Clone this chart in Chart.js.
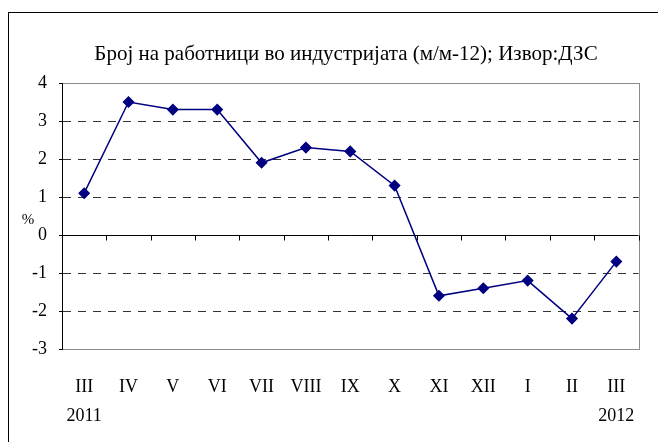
<!DOCTYPE html>
<html>
<head>
<meta charset="utf-8">
<script src="https://cdn.jsdelivr.net/npm/chart.js@4/dist/chart.umd.min.js"></script>
<style>
html,body{margin:0;padding:0;background:#fff;}
#wrap{width:658px;height:442px;position:relative;}
</style>
</head>
<body>
<div id="wrap"><canvas id="c" width="658" height="442"></canvas></div>
<script>
const titleText = 'Број на работници во индустријата (м/м-12); Извор:ДЗС';
const months = ['III','IV','V','VI','VII','VIII','IX','X','XI','XII','I','II','III'];
const years = ['2011','','','','','','','','','','','','2012'];
const values = [1.1, 3.5, 3.3, 3.3, 1.9, 2.3, 2.2, 1.3, -1.6, -1.4, -1.2, -2.2, -0.7];
const yMin = -3, yMax = 4, yStep = 1;
const unitLabel = '%';

const labels = months.map((m, i) => years[i] ? [m, years[i]] : m);
const serif = 'Liberation Serif';

const decor = {
  id: 'decor',
  beforeDraw(chart) {
    const ctx = chart.ctx, a = chart.chartArea;
    ctx.save();
    ctx.strokeStyle = '#000';
    ctx.lineWidth = 1;
    ctx.strokeRect(8.5, 12.5, 1000, 1000);
    ctx.strokeStyle = '#8c8c8c';
    ctx.strokeRect(Math.round(a.left) + 0.5, Math.round(a.top) + 0.5, Math.round(a.right - a.left), Math.round(a.bottom - a.top));
    ctx.restore();
  },
  beforeDatasetsDraw(chart) {
    // category boundary tick marks hanging from the zero line
    const ctx = chart.ctx, xs = chart.scales.x, ys = chart.scales.y;
    const y0 = Math.round(ys.getPixelForValue(0)) + 0.5;
    const n = xs.ticks.length;
    ctx.save();
    ctx.strokeStyle = '#000';
    ctx.lineWidth = 1;
    ctx.beginPath();
    for (let i = 0; i <= n; i++) {
      let p;
      if (i === 0) p = xs.left;
      else if (i === n) p = xs.right;
      else p = (xs.getPixelForTick(i - 1) + xs.getPixelForTick(i)) / 2;
      p = Math.round(p) + 0.5;
      ctx.moveTo(p, y0);
      ctx.lineTo(p, y0 + 5);
    }
    ctx.stroke();
    ctx.restore();
  },
  afterDraw(chart) {
    const ctx = chart.ctx, a = chart.chartArea;
    ctx.save();
    ctx.fillStyle = '#000';
    ctx.font = '21px "' + serif + '"';
    ctx.textAlign = 'center';
    ctx.textBaseline = 'alphabetic';
    ctx.fillText(titleText, 346, 60);
    ctx.font = '15px "' + serif + '"';
    ctx.textBaseline = 'middle';
    ctx.fillText(unitLabel, 28, (a.top + a.bottom) / 2 + 4);
    ctx.restore();
  }
};

new Chart(document.getElementById('c'), {
  type: 'line',
  data: {
    labels: labels,
    datasets: [{
      data: values,
      borderColor: '#000080',
      backgroundColor: '#000080',
      borderWidth: 1.5,
      pointStyle: 'rectRot',
      pointRadius: 5,
      pointHoverRadius: 5,
      tension: 0
    }]
  },
  options: {
    responsive: false,
    animation: false,
    layout: { padding: { left: 0, right: 17, top: 83, bottom: 0 } },
    plugins: {
      legend: { display: false },
      tooltip: { enabled: false },
      title: { display: false }
    },
    scales: {
      x: {
        type: 'category',
        position: 'bottom',
        offset: true,
        grid: { display: false, drawTicks: false },
        border: { display: false },
        ticks: {
          color: '#000',
          font: { family: serif, size: 18, lineHeight: 1.65 },
          padding: 23,
          maxRotation: 0,
          autoSkip: false
        },
        afterFit(s) { s.height = 93; }
      },
      y: {
        min: yMin,
        max: yMax,
        position: 'left',
        grid: {
          color: (c) => {
            if (!c.tick) return 'rgba(0,0,0,0)';
            const v = c.tick.value;
            if (v === yMin || v === yMax) return 'rgba(0,0,0,0)';
            return v === 0 ? '#000' : '#333';
          },
          drawTicks: true,
          tickLength: 3,
          tickColor: '#000',
          tickBorderDash: []
        },
        border: {
          display: true, color: '#000', width: 1,
          dash: (c) => (c.tick && c.tick.value === 0) ? [] : [8, 7]
        },
        ticks: {
          stepSize: yStep,
          color: '#000',
          font: { family: serif, size: 18 },
          padding: 12
        },
        afterFit(s) { s.width = 62; }
      }
    }
  },
  plugins: [decor]
});
</script>
</body>
</html>
